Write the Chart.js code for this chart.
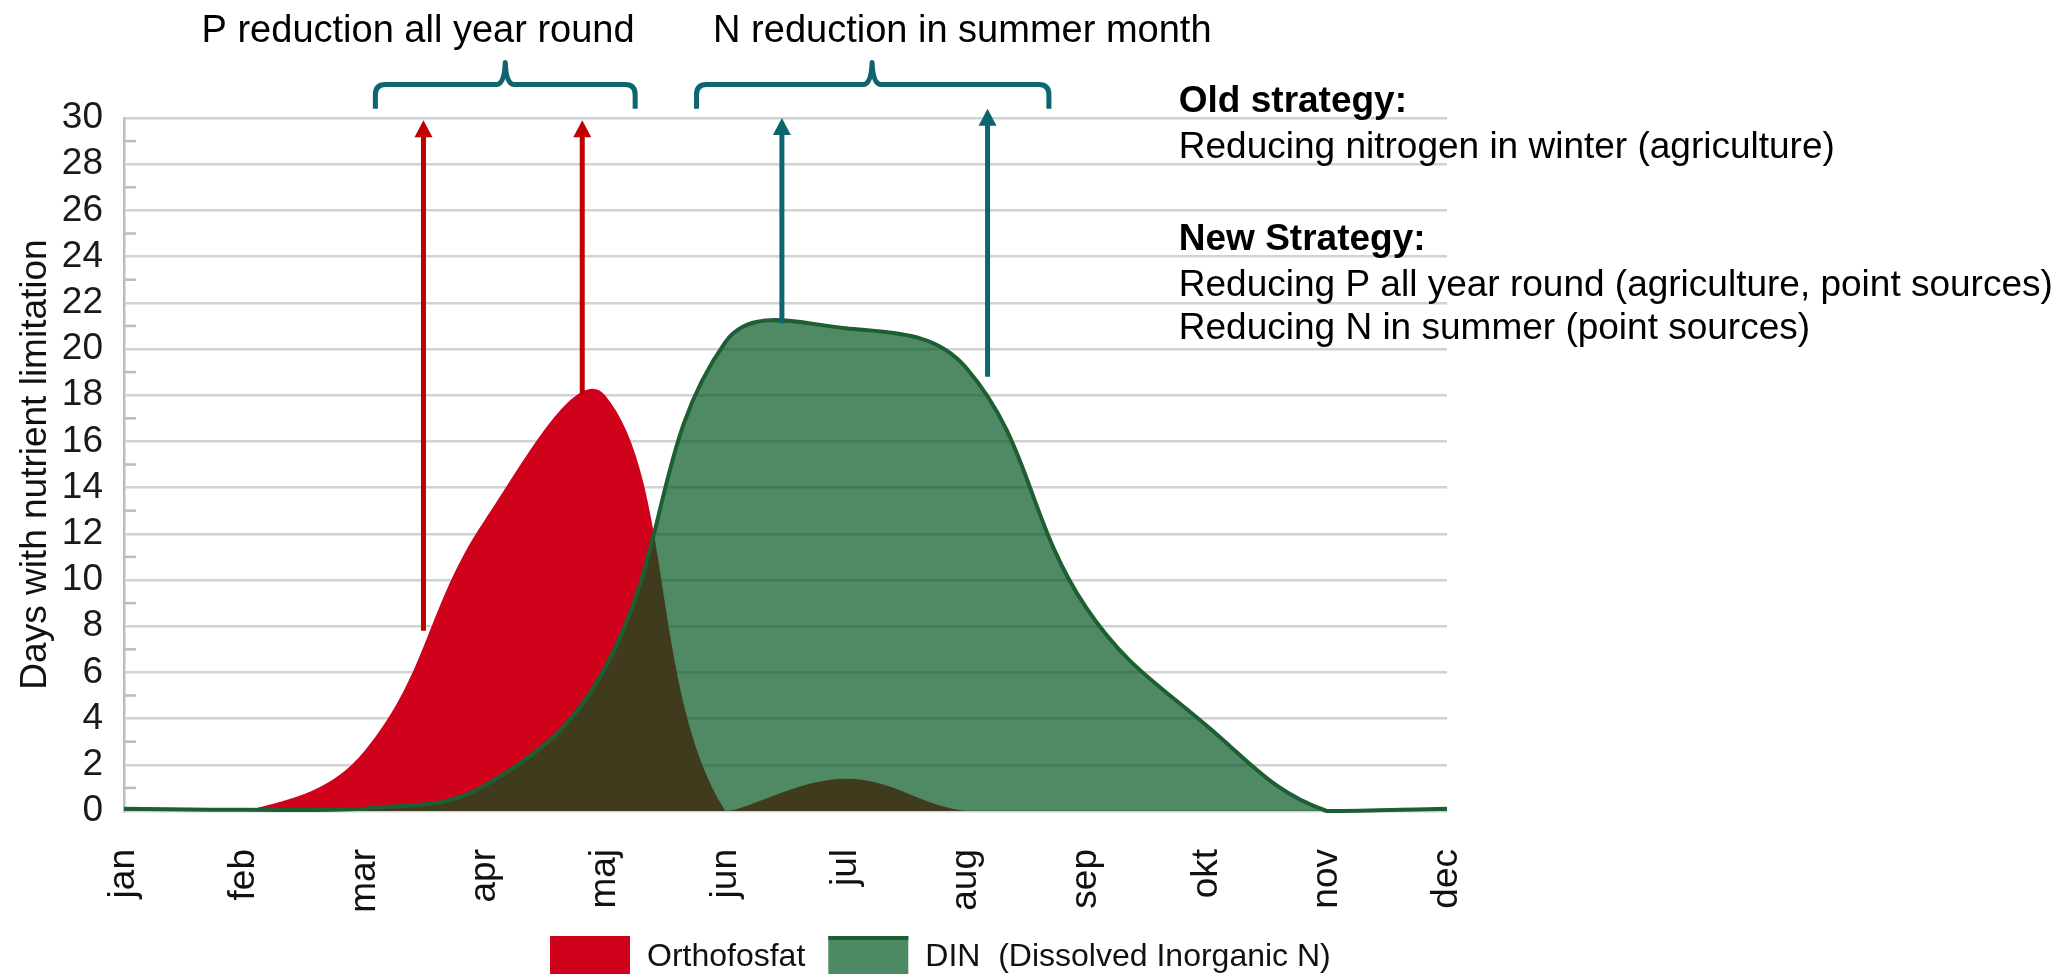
<!DOCTYPE html>
<html>
<head>
<meta charset="utf-8">
<script src="https://cdn.jsdelivr.net/npm/chart.js@4.4.1/dist/chart.umd.min.js"></script>
<style>
  html, body { margin: 0; padding: 0; background: #fff; overflow: hidden; }
  #wrap { width: 2062px; height: 974px; position: relative; }
</style>
</head>
<body>
<div id="wrap"><canvas id="chart" width="2062" height="974"></canvas></div>
<script>
// Monthly values
const months = ["jan", "feb", "mar", "apr", "maj", "jun", "jul", "aug", "sep", "okt", "nov", "dec"];
const orthofosfat = [0, 0, 2.6, 12.6, 18, 0, 1.4, 0, 0, 0, 0, 0];
const din = [0.1, 0.05, 0.1, 1.1, 6.2, 20.3, 20.9, 19.2, 8.8, 3.7, 0, 0.1];
const seriesLabels = ["Orthofosfat", "DIN  (Dissolved Inorganic N)"];

// Annotation arrows (x as month index, y in days)
const arrowX = [2.49, 3.81, 5.47, 7.18];
const arrowFrom = [7.8, 18, 21.1, 18.8];
const arrowTo = [29.9, 29.9, 30, 30.4];
const arrowKind = ["P", "P", "N", "N"];

// Braces and their headings
const braceStart = [2.09, 4.76];
const braceEnd = [4.25, 7.69];
const braceMid = [3.17, 6.22];
const braceTitles = ["P reduction all year round", "N reduction in summer month"];
const braceTitleX = [2.445, 6.97];

// Strategy notes on the right
const noteLines = [
  { text: "Old strategy:", bold: true, y: 30.25 },
  { text: "Reducing nitrogen in winter (agriculture)", bold: false, y: 28.25 },
  { text: "New Strategy:", bold: true, y: 24.3 },
  { text: "Reducing P all year round (agriculture, point sources)", bold: false, y: 22.3 },
  { text: "Reducing N in summer (point sources)", bold: false, y: 20.45 }
];
const noteX = 8.77;

const red = "#d0021b";
const greenFill = "rgba(0, 85, 30, 0.69)";
const greenLine = "#1d5e33";
const arrowRed = "#c00000";
const teal = "#0d6570";
const gridGray = "#d2d2d2";
const axisGray = "#bdbdbd";
const font = "'Liberation Sans', Arial, sans-serif";

const annotations = {
  id: "annotations",
  beforeDatasetsDraw(chart) {
    // minor ticks on the y axis at odd values
    const { ctx, chartArea, scales } = chart;
    ctx.save();
    ctx.strokeStyle = axisGray;
    ctx.lineWidth = 2.5;
    for (let v = 1; v < 30; v += 2) {
      const y = scales.y.getPixelForValue(v);
      ctx.beginPath();
      ctx.moveTo(chartArea.left, y);
      ctx.lineTo(chartArea.left + 12, y);
      ctx.stroke();
    }
    ctx.restore();
  },
  afterDraw(chart) {
    const { ctx, scales } = chart;
    const xs = scales.x, ys = scales.y;
    ctx.save();

    // arrows
    arrowX.forEach((xv, i) => {
      const x = xs.getPixelForValue(xv);
      const y0 = ys.getPixelForValue(arrowFrom[i]);
      const y1 = ys.getPixelForValue(arrowTo[i]);
      const c = arrowKind[i] === "P" ? arrowRed : teal;
      ctx.strokeStyle = c;
      ctx.fillStyle = c;
      ctx.lineWidth = 5;
      ctx.beginPath();
      ctx.moveTo(x, y0);
      ctx.lineTo(x, y1 + 14);
      ctx.stroke();
      ctx.beginPath();
      ctx.moveTo(x, y1);
      ctx.lineTo(x - 9, y1 + 17);
      ctx.lineTo(x + 9, y1 + 17);
      ctx.closePath();
      ctx.fill();
    });

    // braces
    ctx.strokeStyle = teal;
    ctx.lineWidth = 5;
    ctx.lineJoin = "round";
    const yh = ys.getPixelForValue(31.45);
    const ye = ys.getPixelForValue(30.4);
    const yp = ys.getPixelForValue(32.4);
    braceStart.forEach((s, i) => {
      const x1 = xs.getPixelForValue(s);
      const x2 = xs.getPixelForValue(braceEnd[i]);
      const xm = xs.getPixelForValue(braceMid[i]);
      const r = 10;
      ctx.beginPath();
      ctx.moveTo(x1, ye);
      ctx.lineTo(x1, yh + r);
      ctx.quadraticCurveTo(x1, yh, x1 + r, yh);
      ctx.lineTo(xm - 9, yh);
      ctx.quadraticCurveTo(xm - 1, yh, xm, yp);
      ctx.quadraticCurveTo(xm + 1, yh, xm + 9, yh);
      ctx.lineTo(x2 - r, yh);
      ctx.quadraticCurveTo(x2, yh, x2, yh + r);
      ctx.lineTo(x2, ye);
      ctx.stroke();
    });

    // brace headings
    ctx.fillStyle = "#000";
    ctx.font = "38px " + font;
    ctx.textAlign = "center";
    ctx.textBaseline = "alphabetic";
    braceTitles.forEach((t, i) => {
      ctx.fillText(t, xs.getPixelForValue(braceTitleX[i]), ys.getPixelForValue(33.3));
    });

    // strategy notes
    ctx.textAlign = "left";
    noteLines.forEach((l) => {
      ctx.font = (l.bold ? "bold " : "") + "37px " + font;
      ctx.fillText(l.text, xs.getPixelForValue(noteX), ys.getPixelForValue(l.y));
    });

    // legend
    ctx.font = "32px " + font;
    let lx = 550;
    const boxTop = 936;
    chart.data.datasets.forEach((ds, i) => {
      const fill = i === 0 ? red : "#4b8a63";
      ctx.fillStyle = fill;
      ctx.fillRect(lx, boxTop, 80, 60);
      if (i === 1) {
        ctx.fillStyle = greenLine;
        ctx.fillRect(lx, boxTop, 80, 4);
      }
      lx += 80 + 17;
      ctx.fillStyle = "#111";
      ctx.fillText(ds.label, lx, 966);
      lx += ctx.measureText(ds.label).width + 23;
    });

    ctx.restore();
  }
};

const chart = new Chart(document.getElementById("chart"), {
  type: "line",
  data: {
    labels: months,
    datasets: [
      {
        label: seriesLabels[0],
        data: orthofosfat,
        order: 2,
        backgroundColor: red,
        borderColor: red,
        borderWidth: 0,
        pointRadius: 0,
        tension: 0.4,
        fill: "origin",
        clip: 10
      },
      {
        label: seriesLabels[1],
        data: din,
        order: 1,
        backgroundColor: greenFill,
        borderColor: greenLine,
        borderWidth: 4,
        pointRadius: 0,
        tension: 0.4,
        fill: "origin",
        clip: 10
      }
    ]
  },
  options: {
    responsive: false,
    animation: false,
    devicePixelRatio: 1,
    layout: { padding: { top: 118, right: 615, bottom: 0, left: 0 } },
    plugins: {
      legend: { display: false },
      tooltip: { enabled: false }
    },
    scales: {
      x: {
        type: "category",
        offset: false,
        grid: { display: false },
        border: { display: false },
        afterFit: (scale) => { scale.height = 163; },
        ticks: {
          autoSkip: false,
          minRotation: 90,
          maxRotation: 90,
          padding: 30,
          color: "#111",
          font: { family: font, size: 37 }
        }
      },
      y: {
        min: 0,
        max: 30,
        afterFit: (scale) => { scale.width = 124; },
        grid: { color: gridGray, lineWidth: 2.5, drawTicks: false },
        border: { color: axisGray, width: 2.5 },
        ticks: {
          stepSize: 2,
          autoSkip: false,
          padding: 21,
          color: "#1a1a1a",
          font: { family: font, size: 37 }
        },
        title: {
          display: true,
          text: "Days with nutrient limitation",
          color: "#111",
          font: { family: font, size: 37 },
          padding: { top: 14, bottom: 0 }
        }
      }
    }
  },
  plugins: [annotations]
});
</script>
</body>
</html>
